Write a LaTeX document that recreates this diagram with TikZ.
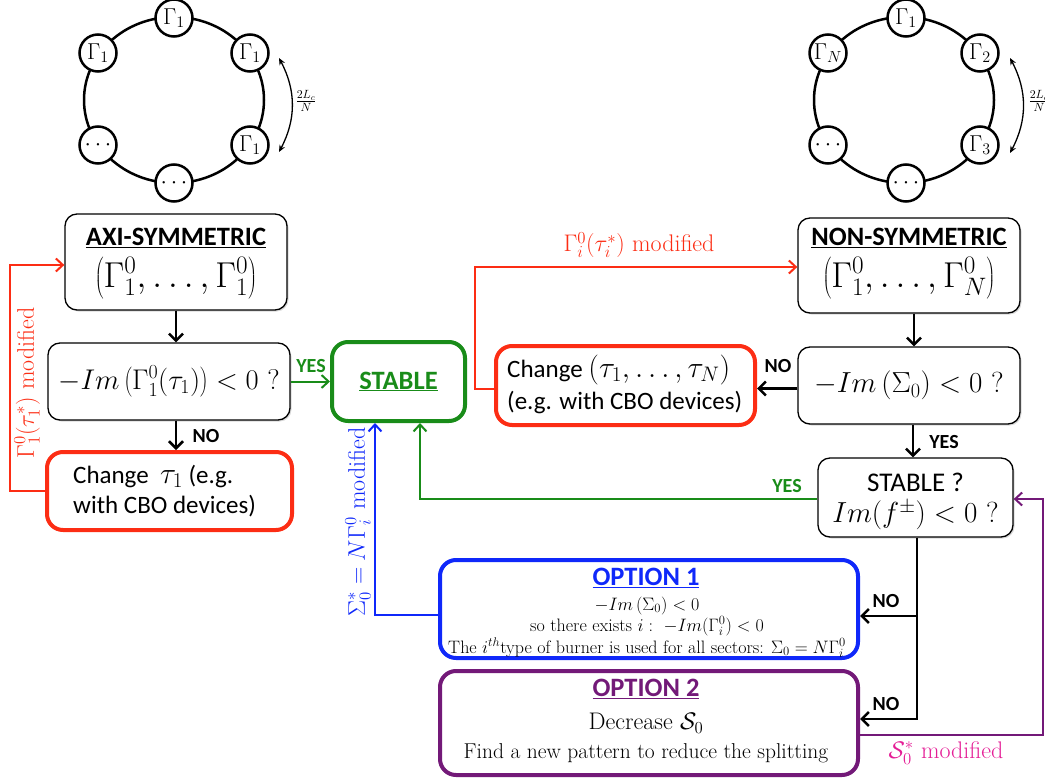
\RequirePackage{fix-cm}
\documentclass[tikz,border=0pt]{standalone}
\usepackage{fontspec}
\newfontfamily\calib{Carlito}
\usetikzlibrary{arrows.meta,shadows,calc}
\newcommand{\fsz}[2]{\fontsize{#1}{#2}\selectfont}
\definecolor{myred}{RGB}{252,45,20}
\definecolor{mygreen}{RGB}{25,140,25}
\definecolor{myblue}{RGB}{15,40,250}
\definecolor{mypurple}{RGB}{115,25,120}
\definecolor{mymag}{RGB}{228,30,150}
\begin{document}
\begin{tikzpicture}[x=1pt,y=-1pt,
  bbox/.style={draw, line width=1.3, rounded corners=12, fill=white, inner sep=0,
    drop shadow={shadow xshift=1.5pt,shadow yshift=-1.5pt,opacity=0.3}},
  cbox/.style={draw, line width=4, rounded corners=16, fill=white, inner sep=0},
  arr/.style={line width=2.5, -{Straight Barb[length=7,width=14]}},
  carr/.style={line width=2, -{Straight Barb[length=7,width=13]}},
  lab/.style={font=\calib\bfseries\fsz{20}{22}},
  ring/.style={circle, draw, line width=2.5, fill=white, minimum size=37, inner sep=0, font=\fsz{23}{24}},
  ttl/.style={font=\calib\bfseries\fsz{26.5}{28}, inner sep=0},
  txt/.style={inner sep=0},
  mlab/.style={font=\fsz{24}{26}}]
\useasboundingbox (0,0) rectangle (1045,779);

% ---------- rings ----------
\draw[line width=2.5] (174,100) ellipse [x radius=90, y radius=83];
\node[ring] (l1) at (174,18) {$\Gamma_1$};
\node[ring] (l2) at (98,53) {$\Gamma_1$};
\node[ring] (l3) at (250,53) {$\Gamma_1$};
\node[ring] (l4) at (98,145) {$\cdots$};
\node[ring] (l5) at (250,145) {$\Gamma_1$};
\node[ring] (l6) at (174,183) {$\cdots$};
\coordinate (la1) at (279,58);
\coordinate (la2) at (279,152);
\draw[line width=1.3, {Stealth[length=7,width=6]}-{Stealth[length=7,width=6]}] (la1) to[bend left=28] (la2);
\node[font=\fsz{17}{18}] (lf) at (306,101) {$\frac{2L_c}{N}$};

\draw[line width=2.5] (904,100) ellipse [x radius=90, y radius=83];
\node[ring] (r1) at (906,18) {$\Gamma_1$};
\node[ring] (r2) at (828,53) {$\Gamma_N$};
\node[ring] (r3) at (980,53) {$\Gamma_2$};
\node[ring] (r4) at (828,145) {$\cdots$};
\node[ring] (r5) at (980,145) {$\Gamma_3$};
\node[ring] (r6) at (906,183) {$\cdots$};
\coordinate (ra1) at (1010,58);
\coordinate (ra2) at (1010,153);
\draw[line width=1.3, {Stealth[length=7,width=6]}-{Stealth[length=7,width=6]}] (ra1) to[bend left=28] (ra2);
\node[font=\fsz{17}{18}] (rf) at (1039,101) {$\frac{2L_c}{N}$};

% ---------- left column ----------
\node[bbox, minimum width=222, minimum height=96] (axi) at (176,262) {};
\node[ttl] (axit) at (176,238) {\underline{AXI-SYMMETRIC}};
\node[txt, font=\fsz{36}{40}] (axim) at (176,278) {$\left(\Gamma^0_1,\ldots,\Gamma^0_1\right)$};

\node[bbox, minimum width=242, minimum height=77, font=\fsz{28.5}{30}] (c1) at (169,381.5) {$-Im\left(\Gamma^0_1(\tau_1)\right)<0$ ?};

\node[cbox, draw=myred, minimum width=245, minimum height=78] (ch1) at (169.5,491) {};
\node[txt, font=\calib\fsz{25}{30}, align=left, anchor=west] (ch1t) at (73,491) {Change\ \ {\fsz{30}{30}$\tau_1$} (e.g.\\with CBO devices)};

\node[cbox, draw=mygreen, minimum width=133, minimum height=79, ttl, text=mygreen] (st) at (398.5,381.5) {\underline{STABLE}};

% ---------- right column ----------
\node[bbox, minimum width=222, minimum height=95] (ns) at (909,265.5) {};
\node[ttl] (nst) at (909,238) {\underline{NON-SYMMETRIC}};
\node[txt, font=\fsz{36}{40}] (nsm) at (909,278) {$\left(\Gamma^0_1,\ldots,\Gamma^0_N\right)$};

\node[bbox, minimum width=222, minimum height=77, font=\fsz{29}{30}] (c2) at (909,385.5) {$-Im\left(\Sigma_0\right)<0$ ?};

\node[cbox, draw=myred, minimum width=259, minimum height=79] (ch2) at (625.5,385.5) {};
\node[txt, font=\calib\fsz{25}{32}, align=left, anchor=west] (ch2t) at (507,384) {Change {\fsz{30}{30}$\left(\tau_1,\ldots,\tau_N\right)$}\\(e.g. with CBO devices)};

\node[bbox, minimum width=195, minimum height=79] (st2) at (915.5,497.5) {};
\node[txt, font=\calib\fsz{27}{28}] (st2a) at (915.5,482) {STABLE ?};
\node[txt, font=\fsz{29}{30}] (st2b) at (915.5,515) {$Im(f^{\pm})<0$ ?};

% ---------- options ----------
\node[cbox, draw=myblue, minimum width=418, minimum height=98] (o1) at (649,609) {};
\node[ttl, text=myblue] (o1t) at (646,578) {\underline{OPTION 1}};
\node[txt, font=\fsz{18}{21.5}, align=center] (o1b) at (647,627) {$-Im\left(\Sigma_0\right)<0$\\so there exists $i:\ -Im(\Gamma^0_i)<0$\\The $i^{th}$type of burner is used for all sectors: $\Sigma_0=N\Gamma^0_i$};

\node[cbox, draw=mypurple, minimum width=418, minimum height=104] (o2) at (649,723) {};
\node[ttl, text=mypurple] (o2t) at (646,689) {\underline{OPTION 2}};
\node[txt, font=\fsz{24}{26}] (o2a) at (646,723) {Decrease $\mathcal{S}_0$};
\node[txt, font=\fsz{21.5}{23}] (o2b) at (646,753) {Find a new pattern to reduce the splitting};

% ---------- connectors ----------
\draw[arr] (axi.south) -- (axi.south |- c1.north);
\draw[arr] (axi.south |- c1.south) -- (axi.south |- ch1.north);
\node[lab] (no1) at (206,436) {NO};
\draw[carr, draw=mygreen] (c1.east) -- (st.west);
\node[lab, text=mygreen] (yes1) at (311,366) {YES};

\coordinate (rl1) at (10,265);
\draw[carr, draw=myred] (ch1.west) -| (rl1) -- (rl1 -| axi.west);
\node[mlab, text=myred, rotate=90] (rlab1) at (27,383) {$\Gamma^0_1(\tau^*_1)$ modified};

\draw[arr] ([xshift=5]ns.south) -- ([xshift=5]ns.south |- c2.north);
\draw[arr] ([yshift=-3]c2.west) -- ([yshift=-3]c2.west -| ch2.east);
\node[lab] (no2) at (778,366) {NO};
\coordinate (rl2) at (475,267);
\draw[carr, draw=myred] ([yshift=-3]ch2.west) -| (rl2) -- (rl2 -| ns.west);
\node[mlab, text=myred] (rlab2) at (639,245) {$\Gamma^0_i(\tau^*_i)$ modified};

\draw[arr] ([xshift=4]c2.south) -- ([xshift=4]c2.south |- st2.north);
\node[lab] (yes2) at (944,442) {YES};

\coordinate (g1) at (420,499);
\draw[carr, draw=mygreen] (st2.west |- g1) -- (g1) -- (g1 |- st.south);
\node[lab, text=mygreen] (yes3) at (787,486) {YES};

\coordinate (bl1) at (375,615);
\draw[carr, draw=myblue] (o1.west |- bl1) -- (bl1) -- (bl1 |- st.south);
\node[mlab, text=myblue, rotate=90] (blab) at (358,522) {$\Sigma^*_0=N\Gamma^0_i$ modified};

\coordinate (b1) at (917,616);
\coordinate (b2) at (917,719);
\draw[arr] (b1 |- st2.south) |- (o2.east |- b2);
\draw[arr] (b1) -- (b1 -| o1.east);
\node[lab] (no3) at (886,601) {NO};
\node[lab] (no4) at (886,704) {NO};

\coordinate (p1) at (1043,735);
\coordinate (p2) at (1043,499);
\draw[carr, draw=mypurple] (o2.east |- p1) -- (p1) -- (p2) -- (p2 -| st2.east);
\node[mlab, text=mymag] (plab) at (946,753) {$\mathcal{S}^*_0$ modified};
\end{tikzpicture}
\end{document}
